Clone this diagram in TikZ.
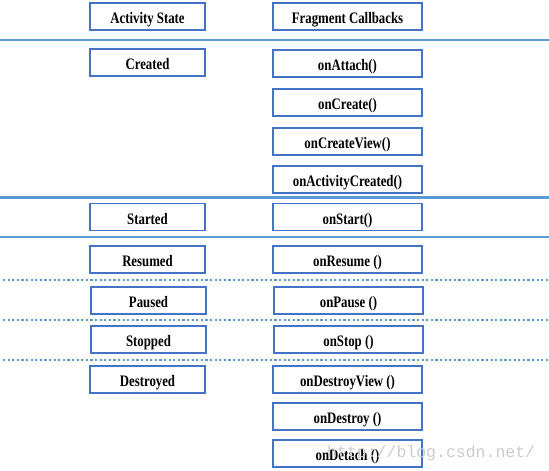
\documentclass[tikz,border=0pt]{standalone}
\usepackage{fontspec}
\newfontfamily\boxfont[FakeStretch=0.8]{Liberation Serif}
\newfontfamily\wmfont{Liberation Mono}
\definecolor{boxblue}{HTML}{4472C4}
\definecolor{lineblue}{HTML}{5B9BD5}
\tikzset{
  lbox/.style={draw=boxblue, line width=1.1pt, minimum width=115pt, minimum height=27pt, inner sep=0pt,
    text height=14pt, text depth=0pt,
    font=\boxfont\bfseries\fontsize{16}{16}\selectfont},
  rbox/.style={lbox, minimum width=149pt},
  solidsep/.style={draw=lineblue, line width=2.4pt},
  dotsep/.style={draw=lineblue, line width=2.2pt, dash pattern=on 2.2pt off 2.4pt},
}
\begin{document}
\begin{tikzpicture}[x=1pt,y=-1pt]
\useasboundingbox (0,0) rectangle (549,471);
% separators
\draw[solidsep] (0,40) -- (549,40);
\draw[solidsep] (0,197.5) -- (549,197.5);
\draw[solidsep] (0,237) -- (549,237);
\draw[dotsep] (3,280) -- (549,280);
\draw[dotsep] (3,320) -- (549,320);
\draw[dotsep] (3,360) -- (549,360);
% headers
\node[lbox] (as) at (147.5,16.5) {Activity State};
\node[rbox] (fc) at (347.5,16.5) {Fragment Callbacks};
% activity states
\node[lbox] (created) at (147.5,62.5) {Created};
\node[lbox] (started) at (147.5,217) {Started};
\node[lbox] (resumed) at (147.5,259.5) {Resumed};
\node[lbox] (paused) at (148.5,300.5) {Paused};
\node[lbox] (stopped) at (148.5,339.5) {Stopped};
\node[lbox] (destroyed) at (147.5,379.5) {Destroyed};
% callbacks
\node[rbox] (attach) at (347.5,63.5) {onAttach()};
\node[rbox] (create) at (347.5,102.5) {onCreate()};
\node[rbox] (createview) at (347.5,141.5) {onCreateView()};
\node[rbox] (actcreated) at (347.5,179.5) {onActivityCreated()};
\node[rbox] (start) at (347.5,217) {onStart()};
\node[rbox] (resume) at (347.5,259.5) {onResume ()};
\node[rbox] (pause) at (348.5,300.5) {onPause ()};
\node[rbox] (stop) at (348.5,339.5) {onStop ()};
\node[rbox] (destroyview) at (347.5,379.5) {onDestroyView ()};
\node[rbox] (destroy) at (347.5,416.5) {onDestroy ()};
\node[rbox] (detach) at (347.5,453.5) {onDetach ()};
% watermark
\node[anchor=base west, inner sep=0pt, text=black!20, font=\wmfont\fontsize{16.5}{16.5}\selectfont] (wm) at (327,457) {http://blog.csdn.net/};
\end{tikzpicture}
\end{document}
